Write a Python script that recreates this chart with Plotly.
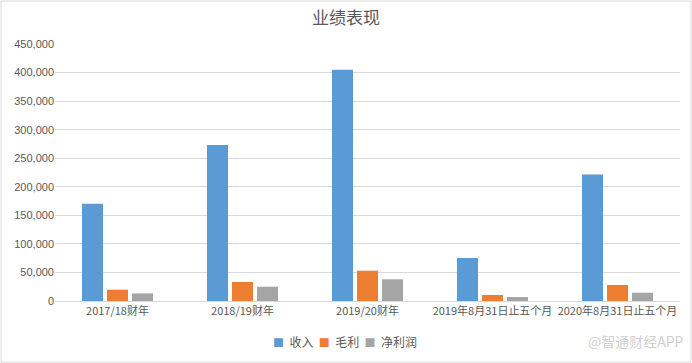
import plotly.graph_objects as go

categories = ["2017/18财年", "2018/19财年", "2019/20财年", "2019年8月31日止五个月", "2020年8月31日止五个月"]
revenue = [170300, 273000, 405000, 75500, 221500]
gross_profit = [19800, 33300, 53000, 10500, 28000]
net_profit = [13300, 25000, 38000, 7000, 14500]
series_names = ["收入", "毛利", "净利润"]
colors = ["#5B9BD5", "#ED7D31", "#A5A5A5"]
tick_vals = [0, 50000, 100000, 150000, 200000, 250000, 300000, 350000, 400000, 450000]

W, H = 692, 363
ml, mr, mt, mb = 55, 12, 44, 62
pw, ph = W - ml - mr, H - mt - mb

fig = go.Figure()
for name, vals, c in zip(series_names, [revenue, gross_profit, net_profit], colors):
    fig.add_trace(go.Bar(x=categories, y=vals, name=name, showlegend=False,
                         marker=dict(color=c, line=dict(width=0))))

legend_text = "&nbsp;&nbsp;".join(
    f"<span style='color:{c}; font-size:11px'>■</span>&nbsp;&nbsp;{n}" for n, c in zip(series_names, colors)
)

font_fam = "Liberation Sans, Noto Sans CJK SC, sans-serif"
fig.update_layout(
    width=W, height=H,
    margin=dict(l=ml, r=mr, t=mt, b=mb, autoexpand=False),
    paper_bgcolor="white", plot_bgcolor="white",
    barmode="group", bargap=0.4, bargroupgap=0.16,
    font=dict(family=font_fam, size=11, color="#595959"),
    title=dict(text="业绩表现", x=0.5, xanchor="center", y=1 - 18 / H, yanchor="middle",
               font=dict(family="Noto Sans CJK SC", size=17, color="#595959")),
    xaxis=dict(showgrid=False, showline=True, linecolor="#D9D9D9", linewidth=1, automargin=False,
               ticks="", tickfont=dict(family="Noto Sans CJK SC", size=11, color="#595959")),
    yaxis=dict(range=[0, 450000], tickvals=tick_vals, tickformat=",", showgrid=True, automargin=False,
               gridcolor="#D9D9D9", gridwidth=1, zeroline=False, showline=False, ticks="",
               tickfont=dict(size=11, color="#595959")),
    shapes=[dict(type="rect", xref="paper", yref="paper",
                 x0=-(ml - 1) / pw, x1=1 + (mr - 1) / pw,
                 y0=-(mb - 1) / ph, y1=1 + (mt - 1) / ph,
                 line=dict(color="#D9D9D9", width=1))],
    annotations=[
        dict(text=legend_text, xref="paper", yref="paper",
             x=(345 - ml) / pw, xanchor="center", y=-40 / ph, yanchor="middle",
             showarrow=False,
             font=dict(family="Noto Sans CJK SC", size=12, color="#595959")),
        dict(text="@智通财经APP", xref="paper", yref="paper",
             x=1 + 6 / pw, xanchor="right", y=-40 / ph, yanchor="middle",
             showarrow=False,
             font=dict(family="Noto Sans CJK SC", size=14, color="#D0D0D0")),
    ],
)

fig.write_html("out.html", post_script="document.body.style.margin='0px';",
               config={"displayModeBar": False})
